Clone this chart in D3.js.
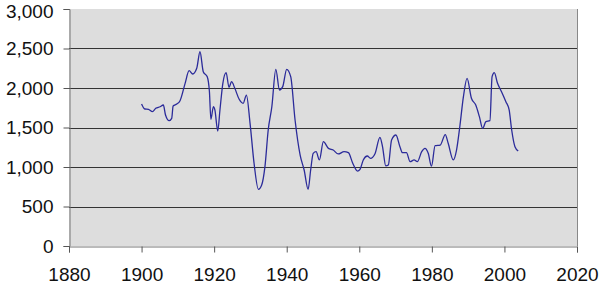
<!DOCTYPE html>
<html>
<head>
<style>
  body {
    margin: 0;
    background-color: #fff;
  }
  text {
    font-family: "Liberation Sans", Arial, sans-serif;
    font-size: 19px;
    fill: #111;
  }
</style>
<script src="https://d3js.org/d3.v7.min.js"></script>
</head>
<body>
<script>
// data
const years = [1900.0, 1900.9, 1901.9, 1903.0, 1903.9, 1905.1, 1906.0, 1906.6, 1907.6, 1908.3,
  1908.7, 1909.7, 1910.6, 1912.0, 1913.1, 1914.1, 1915.2, 1916.1, 1917.0, 1918.1,
  1918.7, 1919.1, 1919.8, 1920.2, 1921.0, 1921.6, 1922.4, 1923.3, 1924.1, 1924.8,
  1925.7, 1926.9, 1928.0, 1928.9, 1929.9, 1931.0, 1932.2, 1933.1, 1934.0, 1934.9,
  1935.9, 1937.0, 1938.0, 1938.9, 1940.0, 1941.1, 1942.3, 1943.7, 1944.8, 1945.9,
  1946.6, 1947.3, 1948.1, 1949.0, 1950.1, 1951.5, 1952.8, 1954.2, 1955.8, 1957.0,
  1958.2, 1959.5, 1960.2, 1961.1, 1962.2, 1963.1, 1964.3, 1965.7, 1966.4, 1967.3,
  1968.0, 1968.9, 1970.1, 1971.2, 1971.9, 1973.0, 1974.0, 1975.1, 1976.0, 1977.2,
  1978.1, 1979.0, 1979.9, 1980.9, 1982.3, 1983.7, 1984.5, 1985.9, 1986.8, 1987.7,
  1988.7, 1989.7, 1990.9, 1992.1, 1993.1, 1994.0, 1994.9, 1996.0, 1996.6, 1997.2,
  1998.1, 1999.2, 2000.4, 2001.3, 2002.0, 2002.9, 2003.8];

const values = [1797, 1734, 1730, 1700, 1743, 1763, 1785, 1658, 1586, 1616,
  1772, 1797, 1839, 2059, 2219, 2177, 2249, 2459, 2207, 2143,
  1953, 1604, 1763, 1722, 1456, 1722, 2059, 2194, 2009, 2080,
  1996, 1857, 1806, 1911, 1553, 1047, 718, 772, 1004, 1468,
  1763, 2237, 1975, 2017, 2237, 2143, 1595, 1150, 962, 718,
  962, 1173, 1194, 1089, 1320, 1236, 1215, 1165, 1194, 1181,
  1047, 949, 970, 1089, 1139, 1110, 1165, 1376, 1257, 1013,
  1025, 1342, 1405, 1257, 1181, 1181, 1067, 1089, 1067, 1194,
  1236, 1173, 1010, 1270, 1278, 1410, 1300, 1089, 1215, 1510,
  1890, 2122, 1870, 1785, 1637, 1489, 1574, 1586, 2143, 2194,
  2059, 1953, 1827, 1722, 1468, 1257, 1203];

const xTicks = [1880, 1900, 1920, 1940, 1960, 1980, 2000, 2020];
const yTicks = [0, 500, 1000, 1500, 2000, 2500, 3000];

const width = 600, height = 286;
const margin = {top: 9, right: 23, bottom: 40, left: 69};

const svg = d3.select('body')
  .append('svg')
  .attr('width', width)
  .attr('height', height);

const x = d3.scaleLinear()
  .domain([1880, 2020])
  .range([margin.left, width - margin.right]);

const y = d3.scaleLinear()
  .domain([0, 3000])
  .range([height - margin.bottom, margin.top]);

// plot background
svg.append('rect')
  .attr('x', margin.left)
  .attr('y', margin.top)
  .attr('width', width - margin.left - margin.right)
  .attr('height', height - margin.top - margin.bottom)
  .attr('fill', '#dddddd');

// right border
svg.append('line')
  .attr('x1', x(2020) + 0.5).attr('x2', x(2020) + 0.5)
  .attr('y1', margin.top).attr('y2', y(0))
  .attr('stroke', '#888');

// gridlines
svg.append('g')
  .selectAll('line')
  .data(yTicks.filter(d => d > 0 && d < 3000))
  .join('line')
  .attr('x1', margin.left)
  .attr('x2', x(2020))
  .attr('y1', d => Math.round(y(d)) + 0.5)
  .attr('y2', d => Math.round(y(d)) + 0.5)
  .attr('stroke', '#333');

// axes
const yAxis = d3.axisLeft(y)
  .tickValues(yTicks)
  .tickSize(6)
  .tickPadding(10)
  .tickFormat(d3.format(','));

const xAxis = d3.axisBottom(x)
  .tickValues(xTicks)
  .tickSize(6)
  .tickPadding(15)
  .tickFormat(d3.format('d'));

const gy = svg.append('g')
  .attr('transform', `translate(${margin.left + 0.5},0)`)
  .call(yAxis);

const gx = svg.append('g')
  .attr('transform', `translate(0,${Math.round(y(0)) + 0.5})`)
  .call(xAxis);

[gx, gy].forEach(g => {
  g.select('.domain').attr('stroke', '#777');
  g.selectAll('.tick line').attr('stroke', '#555');
  g.selectAll('.tick text')
    .attr('fill', '#111')
    .style('font-size', '19px')
    .style('font-family', '"Liberation Sans", Arial, sans-serif');
});

// nudge the top label down a touch so it stays inside the picture
gy.selectAll('.tick text').filter(d => d === 3000).attr('dy', '0.45em');

// the series
const line = d3.line()
  .x((d, i) => x(years[i]))
  .y(d => y(d))
  .curve(d3.curveMonotoneX);

svg.append('path')
  .datum(values)
  .attr('fill', 'none')
  .attr('stroke', '#2b2b9a')
  .attr('stroke-width', 1.3)
  .attr('d', line);
</script>
</body>
</html>
